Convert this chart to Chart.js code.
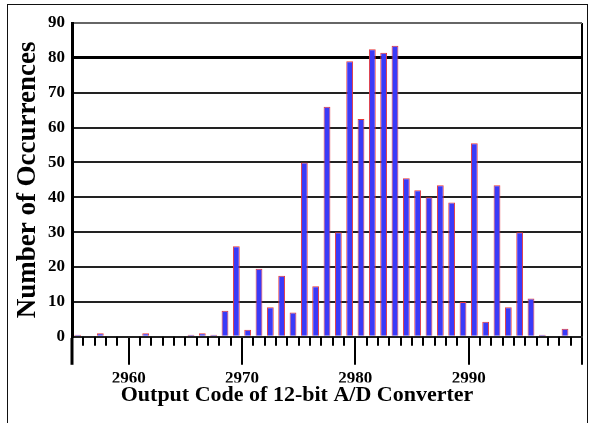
<!DOCTYPE html>
<html><head><meta charset="utf-8">
<script src="https://cdn.jsdelivr.net/npm/chart.js@4"></script>
<style>
html,body{margin:0;padding:0;background:#fff;overflow:hidden;}
#wrap{position:relative;width:590px;height:423px;}
#frame{position:absolute;left:7px;top:4px;width:579px;height:440px;border:1.5px solid #111;pointer-events:none;}
canvas{position:absolute;left:0;top:0;}
</style></head><body>
<div id="wrap"><canvas id="c" width="590" height="423"></canvas><div id="frame"></div></div>
<script>
const codes = [2955,2956,2957,2958,2959,2960,2961,2962,2963,2964,2965,2966,2967,2968,2969,2970,2971,2972,2973,2974,2975,2976,2977,2978,2979,2980,2981,2982,2983,2984,2985,2986,2987,2988,2989,2990,2991,2992,2993,2994,2995,2996,2997,2998,2999];
const occurrences = [0.6,0,1,0,0,0,1,0,0,0,0.6,1,0.6,7.5,26,2,19.5,8.5,17.5,7,50,14.5,66,30,79,62.5,82.5,81.5,83.5,45.5,42,40,43.5,38.5,10,55.5,4.3,43.5,8.5,30,11,0.6,0,2.3,0];
const yTicks = [0,10,20,30,40,50,60,70,80,90];
const xMajorTicks = [2955,2960,2970,2980,2990,3000];
const xTickLabels = [2960,2970,2980,2990];
const xTitle = 'Output Code of 12-bit A/D Converter';
const yTitle = 'Number of Occurrences';

const serif = "'Liberation Serif', 'Times New Roman', serif";

const minorTicks = {
  id: 'minorTicks',
  afterDraw(chart) {
    const s = chart.scales.x2, c = chart.ctx, y0 = chart.chartArea.bottom;
    c.save();
    c.strokeStyle = '#000';
    c.lineWidth = 2;
    codes.forEach(code => {
      if (xMajorTicks.includes(code)) return;
      const px = Math.round(s.getPixelForValue(code));
      c.beginPath(); c.moveTo(px, y0); c.lineTo(px, y0 + 9); c.stroke();
    });
    c.restore();
  }
};

new Chart(document.getElementById('c'), {
  type: 'bar',
  data: {
    labels: codes.map(String),
    datasets: [{
      data: occurrences,
      backgroundColor: '#3a3af8',
      borderColor: '#e8383a',
      borderWidth: 1,
      barPercentage: 0.6,
      categoryPercentage: 1,
      xAxisID: 'x', yAxisID: 'y'
    }]
  },
  options: {
    responsive: false,
    animation: false,
    layout: { padding: { left: 12, right: 8, top: 23, bottom: 0 } },
    plugins: {
      legend: { display: false },
      tooltip: { enabled: false },
      title: {
        display: true, position: 'bottom', text: xTitle, color: '#000',
        font: { family: serif, size: 22, weight: 'bold', lineHeight: 1.2 },
        padding: { top: 0, bottom: 14 }
      }
    },
    scales: {
      x: { type: 'category', display: false, offset: true },
      x2: {
        type: 'linear', position: 'bottom', min: 2955, max: 3000, offset: false,
        afterBuildTicks: s => { s.ticks = xMajorTicks.map(v => ({ value: v })); },
        afterFit: s => { s.height = 45.8; },
        ticks: {
          autoSkip: false, maxRotation: 0, minRotation: 0, padding: 4, color: '#000',
          font: { family: serif, size: 17, weight: 'bold' },
          callback: v => xTickLabels.includes(v) ? String(v) : ''
        },
        grid: {
          offset: false,
          drawOnChartArea: true,
          color: c => (c.tick && c.tick.value === 3000) ? '#000' : 'rgba(0,0,0,0)',
          lineWidth: 2, tickLength: 28, tickColor: '#000',
          tickWidth: c => (c.tick && c.tick.value === 2955) ? 3 : 2
        },
        border: { display: true, color: '#222', width: 2 }
      },
      y: {
        min: 0, max: 90,
        afterBuildTicks: s => { s.ticks = yTicks.map(v => ({ value: v })); },
        afterFit: s => { s.width = 60; },
        ticks: { padding: 7, color: '#000', font: { family: serif, size: 17, weight: 'bold' } },
        grid: {
          drawTicks: false,
          color: c => c.tick.value === 80 ? '#000' : (c.tick.value === 90 ? '#666' : '#222'),
          lineWidth: c => c.tick.value === 80 ? 3 : 2
        },
        border: { display: true, color: '#000', width: 3 },
        title: {
          display: true, text: yTitle, color: '#000',
          font: { family: serif, size: 27, weight: 'bold', lineHeight: 1 },
          padding: { top: 3, bottom: 0 }
        }
      }
    }
  },
  plugins: [minorTicks]
});
</script>
</body></html>
